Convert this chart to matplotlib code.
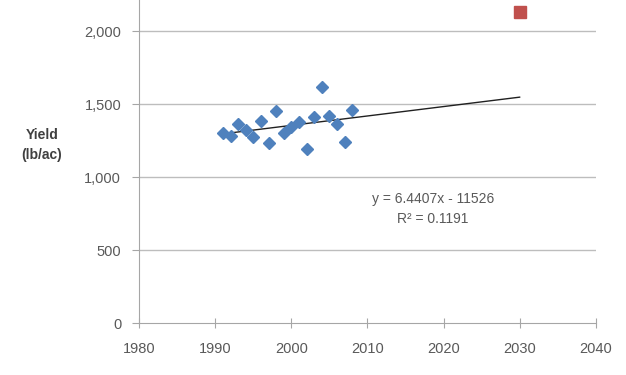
import matplotlib.pyplot as plt
import numpy as np

plt.rcParams['font.family'] = ['Liberation Sans', 'DejaVu Sans']

# observed yields
years = [1991, 1992, 1993, 1994, 1995, 1996, 1997, 1998, 1999,
         2000, 2001, 2002, 2003, 2004, 2005, 2006, 2007, 2008]
yields = [1305, 1283, 1365, 1324, 1278, 1388, 1237, 1452, 1305,
          1347, 1379, 1196, 1415, 1618, 1420, 1365, 1242, 1461]

# projected point
proj_year = [2030]
proj_yield = [2130]

# linear trend from the chart label
slope = 6.4407
intercept = -11526
r2 = 0.1191
trend_x = np.array([1991, 2030])

xticks = [1980, 1990, 2000, 2010, 2020, 2030, 2040]
yticks = [0, 500, 1000, 1500, 2000]

fig = plt.figure(figsize=(6.26, 3.75), dpi=100)
ax = fig.add_axes([0.2225, 0.1379, 0.7291, 0.8621])

gray = '#595959'
for v in yticks[1:]:
    ax.axhline(v, color='#bdbdbd', lw=1.0, zorder=0)

ax.plot(trend_x, slope * trend_x + intercept, color='#202020', lw=1.0, zorder=2)
ax.plot(years, yields, 'D', color='#4f81bd', ms=6.3, mec='#4f81bd', zorder=3)
ax.plot(proj_year, proj_yield, 's', color='#c0504d', ms=8.5, mec='#c0504d', zorder=3)

ax.set_xlim(1980, 2040)
ax.set_ylim(0, 2214)
ax.set_xticks(xticks)
ax.set_yticks(yticks)
ax.set_yticklabels([f'{v:,}' for v in yticks])

for s in ['top', 'right']:
    ax.spines[s].set_visible(False)
for s in ['left', 'bottom']:
    ax.spines[s].set_color('#a6a6a6')
ax.tick_params(axis='x', direction='inout', length=7, color='#a6a6a6',
               labelsize=10.5, labelcolor=gray, pad=10)
ax.tick_params(axis='y', direction='out', length=5, color='#a6a6a6',
               labelsize=10.5, labelcolor=gray, pad=8)

fig.text(0.067, 0.613, 'Yield\n(lb/ac)', ha='center', va='center',
         fontsize=10, fontweight='bold', color='#404040', linespacing=1.5)

ax.text(2018.6, 783, f'y = {slope}x - {abs(intercept)}\nR² = {r2}',
        ha='center', va='center', fontsize=10, color=gray, linespacing=1.6)

fig.savefig('out.png', dpi=100)
